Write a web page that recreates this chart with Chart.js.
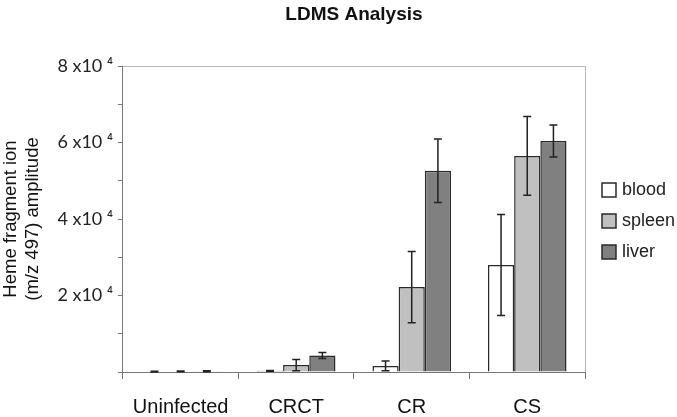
<!DOCTYPE html>
<html>
<head>
<meta charset="utf-8">
<script src="https://cdn.jsdelivr.net/npm/chart.js@4"></script>
<style>
  body { margin: 0; background: #fff; }
  #wrap { width: 677px; height: 417px; }
</style>
</head>
<body>
<div id="wrap"><canvas id="chart" width="677" height="417"></canvas></div>
<script>
// data
const groups = ["Uninfected", "CRCT", "CR", "CS"];
const blood = [100, 300, 1600, 28000];
const spleen = [150, 1800, 22200, 56500];
const liver = [200, 4300, 52600, 60400];
const bloodErr = [80, 100, 1300, 13200];
const spleenErr = [100, 1500, 9300, 10300];
const liverErr = [150, 800, 8300, 4200];
const yTicks = ["", "", "2 x10 ⁴", "", "4 x10 ⁴", "", "6 x10 ⁴", "", "8 x10 ⁴"];
const chartTitle = "LDMS Analysis";

// error bars, light frame round the plot, title and legend
const extras = {
  id: "extras",
  afterDatasetsDraw(chart) {
    const ctx = chart.ctx;
    const y = chart.scales.y;
    chart.data.datasets.forEach((ds, i) => {
      const meta = chart.getDatasetMeta(i);
      meta.data.forEach((bar, j) => {
        const v = ds.data[j];
        const e = ds.err[j];
        const top = y.getPixelForValue(v + e);
        const bot = y.getPixelForValue(Math.max(v - e, 0));
        ctx.save();
        ctx.strokeStyle = "#222";
        ctx.lineWidth = 1.5;
        ctx.beginPath();
        ctx.moveTo(bar.x, top);
        ctx.lineTo(bar.x, bot);
        ctx.moveTo(bar.x - 4, top);
        ctx.lineTo(bar.x + 4, top);
        ctx.moveTo(bar.x - 4, bot);
        ctx.lineTo(bar.x + 4, bot);
        ctx.stroke();
        ctx.restore();
      });
    });
    const a = chart.chartArea;
    ctx.save();
    ctx.strokeStyle = "#b8b8b8";
    ctx.lineWidth = 1;
    ctx.beginPath();
    ctx.moveTo(a.left, a.top + 0.5);
    ctx.lineTo(a.right + 0.5, a.top + 0.5);
    ctx.lineTo(a.right + 0.5, a.bottom);
    ctx.stroke();

    // title, centred over the plot
    ctx.fillStyle = "#111";
    ctx.font = "bold 19px 'Liberation Sans'";
    ctx.textAlign = "center";
    ctx.textBaseline = "middle";
    ctx.fillText(chartTitle, (a.left + a.right) / 2, 15);

    // legend
    const midY = (a.top + a.bottom) / 2 + 2;
    ctx.font = "18px 'Liberation Sans'";
    ctx.textAlign = "left";
    chart.data.datasets.forEach((ds, i) => {
      const cy = midY + (i - 1) * 31;
      const bx = a.right + 17;
      ctx.fillStyle = ds.backgroundColor;
      ctx.fillRect(bx, cy - 7, 14, 14);
      ctx.strokeStyle = "#2a2a2a";
      ctx.lineWidth = 1.5;
      ctx.strokeRect(bx, cy - 7, 14, 14);
      ctx.fillStyle = "#222";
      ctx.fillText(ds.label, bx + 20, cy);
    });
    ctx.restore();
  }
};

new Chart(document.getElementById("chart"), {
  type: "bar",
  data: {
    labels: groups,
    datasets: [
      { label: "blood", data: blood, err: bloodErr, backgroundColor: "#ffffff" },
      { label: "spleen", data: spleen, err: spleenErr, backgroundColor: "#c0c0c0" },
      { label: "liver", data: liver, err: liverErr, backgroundColor: "#808080" },
    ].map((d) => Object.assign(d, {
      borderColor: "#2a2a2a",
      borderWidth: 1.5,
      categoryPercentage: 0.68,
      barPercentage: 1,
    })),
  },
  options: {
    responsive: false,
    animation: false,
    layout: { padding: { top: 66, right: 92, bottom: 0, left: 0 } },
    plugins: {
      title: { display: false },
      legend: { display: false },
      tooltip: { enabled: false },
    },
    scales: {
      x: {
        afterFit: (scale) => { scale.height = 45; },
        grid: {
          display: true,
          drawOnChartArea: false,
          drawTicks: true,
          tickLength: 7,
          color: "#777",
        },
        border: { color: "#777" },
        ticks: {
          color: "#111",
          padding: 16,
          font: { family: "Liberation Sans", size: 20 },
        },
      },
      y: {
        min: 0,
        max: 80000,
        grid: {
          display: true,
          drawOnChartArea: false,
          drawTicks: true,
          tickLength: 5,
          color: "#777",
        },
        border: { color: "#777" },
        ticks: {
          stepSize: 10000,
          color: "#222",
          padding: 5,
          font: { family: "Lato", size: 18 },
          callback: (v, i) => yTicks[i],
        },
        title: {
          display: true,
          text: ["Heme fragment ion", "(m/z 497) amplitude"],
          color: "#111",
          font: { family: "Liberation Sans", size: 18.5 },
          padding: { top: 0, bottom: 8 },
        },
      },
    },
  },
  plugins: [extras],
});
</script>
</body>
</html>
